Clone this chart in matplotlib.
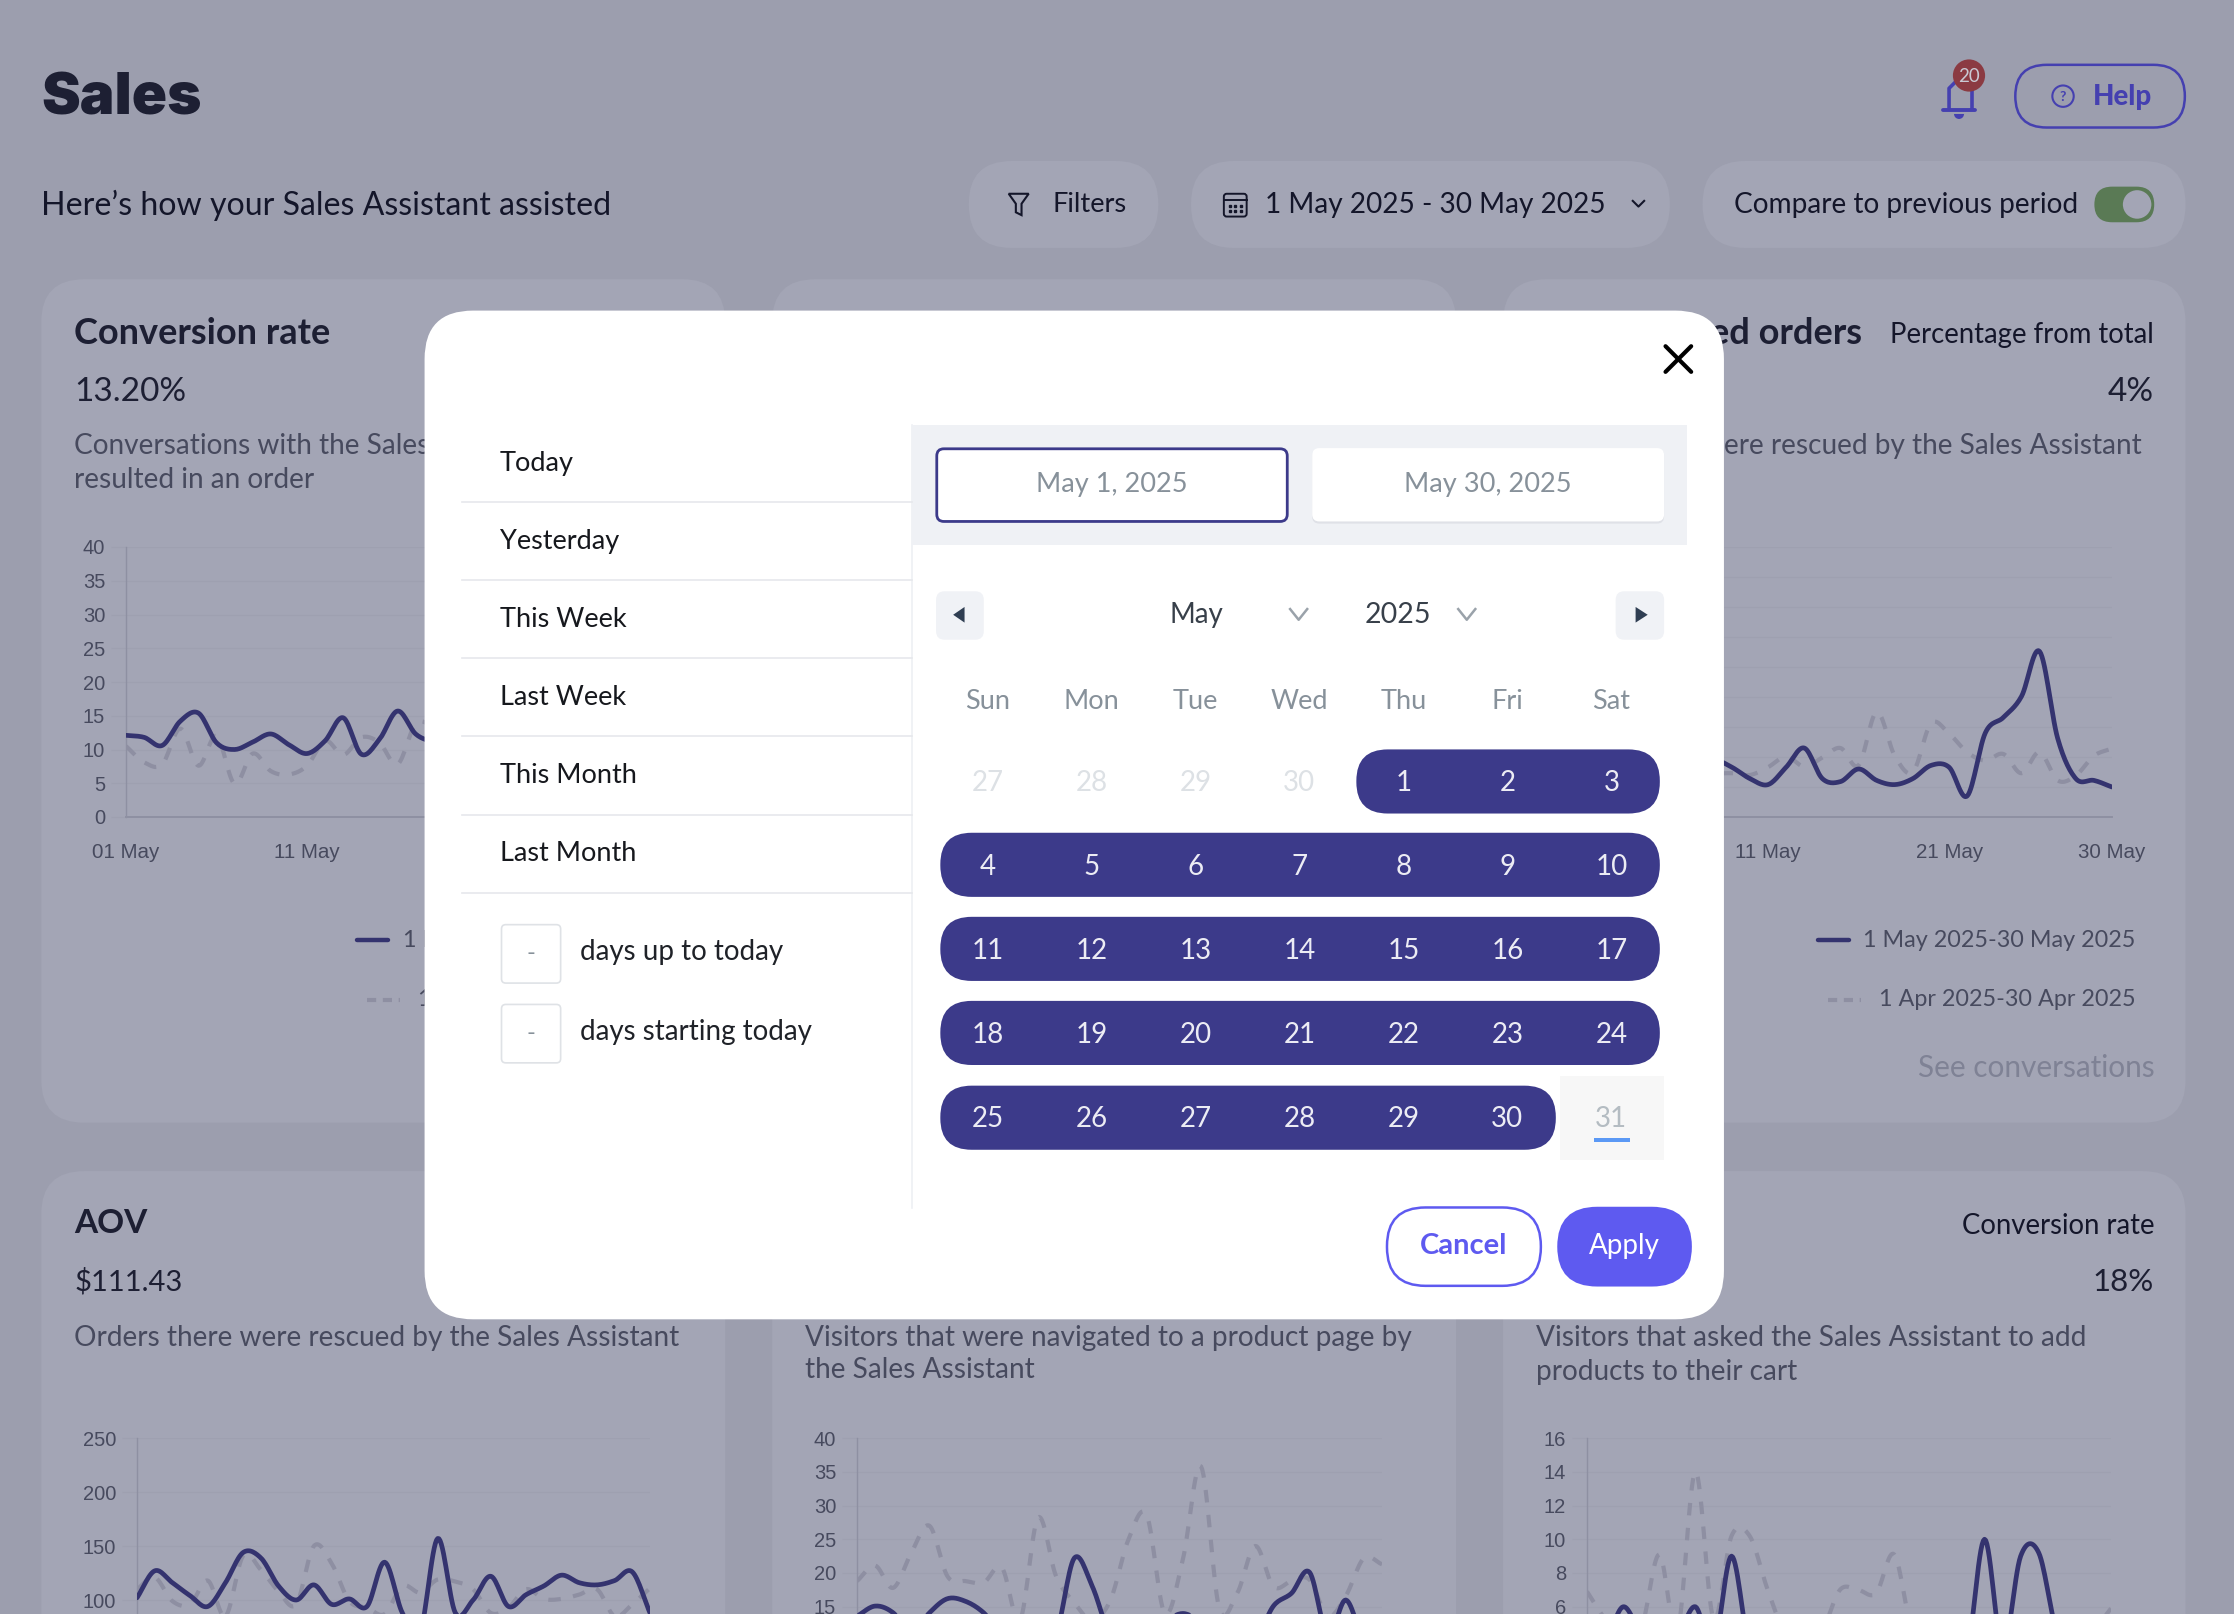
import matplotlib
matplotlib.use('Agg')
import matplotlib.pyplot as plt
import matplotlib.patches as patches
import numpy as np

plt.rcParams['font.family'] = ['Lato', 'DejaVu Sans']

# --- data (hidden stretches behind the dialog are left out) ---
date_ticks = [0, 10, 20, 29]
date_labels = ['01 May', '11 May', '21 May', '30 May']

conv_days = list(range(0, 18))
conv_now = [12.1, 11.8, 10.6, 14.2, 15.4, 11.0, 10.0, 11.1, 12.3, 10.7, 9.4, 11.3, 14.7, 9.3, 11.5, 15.7, 12.3, 11.0]
conv_prev = [10.5, 8.1, 7.8, 13.1, 7.6, 12.0, 4.9, 9.4, 6.8, 6.3, 7.6, 11.3, 9.2, 11.8, 11.0, 7.8, 13.8, 13.5]
conv_ticks = [0, 5, 10, 15, 20, 25, 30, 35, 40]

rescued_days = list(range(6, 30))
rescued_now = [9.0, 9.6, 8.3, 6.4, 5.4, 8.3, 11.5, 6.4, 5.9, 8.0, 6.1, 5.4, 6.4, 8.6, 8.3, 3.5, 14.0, 16.6, 20.1, 27.6, 13.1, 6.4, 6.1, 5.0]
rescued_prev = [7.0, 7.2, 7.3, 7.0, 8.3, 10.1, 8.4, 9.9, 11.5, 8.6, 17.5, 10.2, 7.5, 15.6, 13.9, 10.8, 9.4, 10.5, 7.3, 10.8, 6.1, 6.9, 10.2, 11.4]
rescued_ticks = [0, 5, 10, 15, 20, 25, 30, 35, 40, 45]

aov_now = [102, 127, 116, 104, 94, 116, 144, 139, 113, 100, 114, 96, 101, 94, 135, 88, 70, 157, 88, 100, 122, 94, 105, 113, 123, 116, 114, 118, 126, 88]
aov_prev = [110, 121, 99, 96, 118, 85, 141, 128, 108, 96, 150, 134, 99, 93, 87, 113, 107, 119, 117, 110, 88, 93, 110, 101, 101, 105, 110, 85, 96, 111]
aov_ticks = [0, 50, 100, 150, 200, 250]

nav_now = [13.6, 15.1, 14.1, 11.0, 14.1, 16.2, 15.8, 14.1, 11.0, 10.0, 10.0, 11.0, 22.2, 18.0, 10.7, 10.0, 9.5, 12.6, 14.0, 12.6, 10.0, 10.0, 10.0, 15.1, 17.0, 20.1, 10.7, 16.0, 10.0, 9.0]
nav_prev = [18.8, 21.1, 17.8, 23.0, 27.0, 19.5, 18.8, 18.6, 20.8, 13.0, 28.2, 19.5, 15.6, 13.0, 16.0, 25.0, 28.6, 14.0, 22.0, 35.8, 14.9, 17.0, 24.0, 18.0, 18.8, 19.0, 13.6, 16.6, 22.2, 21.3]
nav_ticks = [0, 5, 10, 15, 20, 25, 30, 35, 40]

cart_now = [4.5, 4.0, 6.0, 4.5, 4.5, 4.3, 6.0, 3.5, 9.0, 3.5, 3.0, 3.0, 3.0, 3.0, 3.0, 3.0, 3.0, 3.0, 3.0, 3.0, 3.0, 3.0, 10.0, 3.5, 9.0, 9.2, 4.5, 3.0, 3.0, 3.0]
cart_prev = [6.9, 5.3, 4.5, 4.7, 9.1, 4.5, 14.0, 5.3, 10.2, 10.2, 7.0, 4.3, 3.5, 4.5, 7.0, 7.0, 6.8, 9.1, 4.5, 3.5, 3.0, 3.0, 3.0, 3.0, 3.0, 3.0, 3.0, 3.0, 4.5, 5.9]
cart_ticks = [0, 2, 4, 6, 8, 10, 12, 14, 16]

all_days = list(range(30))

range_now = '1 May 2025-30 May 2025'
range_prev = '1 Apr 2025-30 Apr 2025'

presets = ['Today', 'Yesterday', 'This Week', 'Last Week', 'This Month', 'Last Month']
weekdays = ['Sun', 'Mon', 'Tue', 'Wed', 'Thu', 'Fri', 'Sat']
cal_rows = [
    ['27', '28', '29', '30', '1', '2', '3'],
    ['4', '5', '6', '7', '8', '9', '10'],
    ['11', '12', '13', '14', '15', '16', '17'],
    ['18', '19', '20', '21', '22', '23', '24'],
    ['25', '26', '27', '28', '29', '30', '31'],
]

# Colors
bg_col = '#9c9eae'
card_col = '#a3a5b5'
dark = '#14162a'
desc_col = '#474a5e'
line_col = '#34336f'
dash_col = '#8e8fa2'
grid_col = '#9ea0b0'
axis_col = '#8e90a2'
purple = '#3c3a8a'
violet = '#5e5af0'
blue_dim = '#4540b0'

W, H = 2234, 1614
S = W / 1568.0  # the layout below is measured on a 1568 wide view
TICK_FONT = 'Liberation Sans'

fig = plt.figure(figsize=(W / 100, H / 100), dpi=100)
fig.patch.set_facecolor(bg_col)

base = fig.add_axes([0, 0, 1, 1], zorder=0)
top = fig.add_axes([0, 0, 1, 1], zorder=5)
for a in (base, top):
    a.set_xlim(0, 1568)
    a.set_ylim(H / S, 0)
    a.axis('off')
    a.patch.set_alpha(0)


def box(ax, x0, y0, x1, y1, r, fc='none', ec='none', lw=0, z=2):
    ax.add_patch(patches.FancyBboxPatch((x0, y0), x1 - x0, y1 - y0,
                                        boxstyle='round,pad=0,rounding_size=%s' % r,
                                        fc=fc, ec=ec, lw=lw, zorder=z))


def txt(ax, x, y, s, size, color=dark, ha='left', weight='normal', z=4, family=None):
    kw = {}
    if family:
        kw['family'] = family
    ax.text(x, y + 1.8, s, fontsize=size, color=color, ha=ha, va='center', fontweight=weight, zorder=z, **kw)


def smooth(days, vals):
    # catmull-rom through the read values, the original curves are rounded
    d = np.array(days, dtype=float)
    v = np.array(vals, dtype=float)
    m = np.gradient(v, d)
    xs, ys = [], []
    for i in range(len(d) - 1):
        t = np.linspace(0, 1, 16)
        h = d[i + 1] - d[i]
        y = ((2 * t**3 - 3 * t**2 + 1) * v[i] + (t**3 - 2 * t**2 + t) * h * m[i]
             + (-2 * t**3 + 3 * t**2) * v[i + 1] + (t**3 - t**2) * h * m[i + 1])
        xs.extend(d[i] + t * h)
        ys.extend(y)
    return xs, ys


def chart(left, right, y_top, y_bottom, ticks, days_now, now, days_prev, prev, x_shown=(), y_labels=True):
    # left/right/y_top/y_bottom in real pixels, x_shown = which date labels are not under the dialog
    ax = fig.add_axes([left / W, 1 - y_bottom / H, (right - left) / W, (y_bottom - y_top) / H], zorder=2)
    ax.patch.set_alpha(0)
    ax.set_xlim(0, 29)
    ax.set_ylim(ticks[0], ticks[-1])
    ax.set_yticks(ticks)
    # labels past the bottom edge of the picture stay empty
    px = [y_bottom - (y_bottom - y_top) * t / ticks[-1] for t in ticks]
    ax.set_yticklabels([str(t) if (y_labels and p < H) else '' for t, p in zip(ticks, px)])
    ax.set_xticks(date_ticks)
    ax.set_xticklabels([lab if lab in x_shown else '' for lab in date_labels])
    ax.grid(axis='y', color=grid_col, lw=1.0, zorder=0)
    for side in ('top', 'right'):
        ax.spines[side].set_visible(False)
    ax.spines['left'].set_color(axis_col)
    ax.spines['bottom'].set_color(axis_col)
    ax.spines['left'].set_linewidth(1.0)
    ax.spines['bottom'].set_linewidth(1.4)
    ax.tick_params(axis='y', length=11, width=1.0, color=grid_col, pad=4, labelsize=14.5, labelcolor=desc_col)
    ax.tick_params(axis='x', length=0, pad=19, labelsize=14.8, labelcolor=desc_col)
    for lab in ax.get_xticklabels() + ax.get_yticklabels():
        lab.set_family(TICK_FONT)
    xs, ys = smooth(days_prev, prev)
    ax.plot(xs, ys, color=dash_col, lw=3.0, dashes=(3.0, 3.0), zorder=3)
    xs, ys = smooth(days_now, now)
    ax.plot(xs, ys, color=line_col, lw=3.4, solid_capstyle='round', zorder=4)
    return ax


def legend_marks(right):
    base.plot([right - 223, right - 201], [660, 660], color=line_col, lw=3.2, solid_capstyle='round', zorder=3)
    base.plot([right - 216, right - 193], [702, 702], color=dash_col, lw=3, dashes=(2.2, 1.6), zorder=3)


# --- page behind the dialog ---
for x0, x1 in [(29, 509), (542, 1022), (1055, 1534)]:
    box(base, x0, 196, x1, 788, 30, fc=card_col, z=1)
    box(base, x0, 822, x1, 1300, 30, fc=card_col, z=1)

txt(base, 29, 68, 'Sales', 42, '#1d1f33', weight='black', family='Inter')
txt(base, 29, 142, "Here\u2019s how your Sales Assistant assisted", 23.1)

box(base, 680, 113, 813, 174, 30, fc=card_col)
box(base, 836, 113, 1172, 174, 30, fc=card_col)
box(base, 1195, 113, 1534, 174, 30, fc=card_col)
txt(base, 739, 142, 'Filters', 19.6)
txt(base, 888, 142, '1 May 2025 - 30 May 2025', 20.2)
txt(base, 1217, 142, 'Compare to previous period', 20.2)

# funnel, calendar, chevron
base.add_patch(patches.Polygon([(708, 136), (722, 136), (717, 143), (717, 151), (713, 149), (713, 143)],
                               closed=True, fc='none', ec=dark, lw=1.5, zorder=4))
box(base, 859, 136, 875, 152, 2, ec=dark, lw=1.4, z=4)
base.plot([859, 875], [140.5, 140.5], color=dark, lw=1.4, zorder=4)
for cx in (863, 867, 871):
    for cy in (144.5, 148):
        base.plot([cx], [cy], 's', ms=1.6, color=dark, zorder=4)
base.plot([1146, 1150, 1154], [141, 145, 141], color=dark, lw=1.5, zorder=4)

# toggle
box(base, 1470, 131, 1512, 156, 12.5, fc='#5a7a55', z=3)
base.add_patch(patches.Circle((1500, 143.5), 10, fc='#a3a5b5', zorder=4))

# help + bell
box(base, 1414.5, 45.5, 1533.5, 89.5, 22, ec=blue_dim, lw=1.8)
txt(base, 1469, 66, 'Help', 20, blue_dim, weight='black')
base.add_patch(patches.Circle((1448, 67.5), 7.5, fc='none', ec=blue_dim, lw=1.5, zorder=4))
txt(base, 1448, 66, '?', 10, blue_dim, ha='center', weight='bold')
base.plot([1368, 1368, 1372], [76, 62, 58], color=blue_dim, lw=2.6, zorder=4)
base.plot([1384, 1384], [62, 76], color=blue_dim, lw=2.6, zorder=4)
base.plot([1364, 1386], [77, 77], color=blue_dim, lw=2.8, solid_capstyle='round', zorder=4)
base.add_patch(patches.Wedge((1375, 80), 3.5, 0, 180, fc=blue_dim, zorder=4))
base.add_patch(patches.Circle((1382, 53), 11.3, fc='#8b3a42', zorder=5))
txt(base, 1382, 52, '20', 13.5, '#c9c9d3', ha='center', z=6)

# top row text, only the parts that show beside the dialog
txt(base, 52, 232, 'Conversion rate', 26, '#1d1f33', weight='bold')
txt(base, 52, 273, '13.20%', 24, '#1d1f33')
txt(base, 52, 311, 'Conversations with the Sales', 20.2, desc_col)
txt(base, 52, 335, 'resulted in an order', 20.2, desc_col)
txt(base, 1307, 232, 'ed orders', 26, '#1d1f33', ha='right', weight='bold')
txt(base, 1512, 233, 'Percentage from total', 19.8, ha='right')
txt(base, 1512, 273, '4%', 24, '#1d1f33', ha='right')
txt(base, 1503, 311, 'ere rescued by the Sales Assistant', 20.2, desc_col, ha='right')
txt(base, 1512, 748, 'See conversations', 21.4, '#7f8295', ha='right')
txt(base, 283, 658, '1 M', 16.8, desc_col)
txt(base, 293, 700, '1', 16.8, desc_col)
txt(base, 1499, 658, range_now, 16.8, desc_col, ha='right')
txt(base, 1499, 700, range_prev, 16.8, desc_col, ha='right')
legend_marks(473.5)
legend_marks(1499)

# bottom row text
txt(base, 52, 857, 'AOV', 24, '#1d1f33', weight='bold')
txt(base, 52, 898, '$111.43', 21, '#1d1f33')
txt(base, 52, 937, 'Orders there were rescued by the Sales Assistant', 20.2, desc_col)
txt(base, 565, 937, 'Visitors that were navigated to a product page by', 20.2, desc_col)
txt(base, 565, 960, 'the Sales Assistant', 20.2, desc_col)
txt(base, 1512, 859, 'Conversion rate', 19.8, ha='right')
txt(base, 1512, 898, '18%', 22.5, '#1d1f33', ha='right')
txt(base, 1078, 937, 'Visitors that asked the Sales Assistant to add', 20.2, desc_col)
txt(base, 1078, 961, 'products to their cart', 20.2, desc_col)

# charts
chart(126, 651, 547, 817, conv_ticks, conv_days, conv_now, conv_days, conv_prev, x_shown=date_labels[:2])
chart(1587, 2112, 547, 817, rescued_ticks, rescued_days, rescued_now, rescued_days, rescued_prev,
      x_shown=date_labels[1:], y_labels=False)
chart(137, 650, 1438, 1708, aov_ticks, all_days, aov_now, all_days, aov_prev)
chart(857, 1382, 1438, 1708, nav_ticks, all_days, nav_now, all_days, nav_prev)
chart(1587, 2111, 1438, 1708, cart_ticks, all_days, cart_now, all_days, cart_prev)

# --- dialog ---
box(top, 298, 218, 1210, 926, 34, fc='white', z=1)
top.plot([1169, 1187], [243, 261], color='black', lw=3, solid_capstyle='round', zorder=4)
top.plot([1187, 1169], [243, 261], color='black', lw=3, solid_capstyle='round', zorder=4)

for i, name in enumerate(presets):
    y = 324 + i * 54.8
    txt(top, 351, y - 0.5, name, 19.5, '#16181d')
    top.plot([324, 640], [y + 28.5, y + 28.5], color='#e6e8ec', lw=1.2, zorder=3)

for y0, label in [(649, 'days up to today'), (705, 'days starting today')]:
    box(top, 352, y0, 393.5, y0 + 41, 3, fc='white', ec='#dfe2e6', lw=1.2)
    txt(top, 372.7, y0 + 18.5, '-', 17, '#87919a', ha='center')
    txt(top, 407, y0 + 17.5, label, 20, '#1f2228')

top.plot([640, 640], [298, 848], color='#eef0f4', lw=1.2, zorder=2)
top.add_patch(patches.Rectangle((640, 298), 544, 84.5, fc='#eff1f5', zorder=2))
box(top, 921, 315, 1168, 367.5, 5, fc='#dfe1e7', z=3)
box(top, 921, 314.5, 1168, 366, 5, fc='white', z=3)
box(top, 657.5, 315, 903.5, 366, 5, fc='white', ec=purple, lw=2, z=3)
txt(top, 780.5, 338, 'May 1, 2025', 19.5, '#87919a', ha='center')
txt(top, 1044.5, 338, 'May 30, 2025', 19.5, '#87919a', ha='center')

box(top, 657, 415, 690.5, 449, 6, fc='#f0f2f6', z=3)
box(top, 1134, 415, 1168, 449, 6, fc='#f0f2f6', z=3)
top.add_patch(patches.Polygon([(677, 426), (677, 437), (669, 431.5)], closed=True, fc='#2f3e52', zorder=4))
top.add_patch(patches.Polygon([(1148, 426), (1148, 437), (1156.5, 431.5)], closed=True, fc='#2f3e52', zorder=4))
txt(top, 839.5, 430, 'May', 20, '#38404a', ha='center')
txt(top, 981, 430, '2025', 20.5, '#38404a', ha='center')
for cx in (911.5, 1029.5):
    top.plot([cx - 6, cx, cx + 6], [427.5, 435, 427.5], color='#9aa2aa', lw=1.8, zorder=4)

col_x = [693, 766, 839, 912, 985, 1058, 1131]
row_y = [548, 607, 666, 725, 784]
for x, name in zip(col_x, weekdays):
    txt(top, x, 490.5, name, 19.5, '#87919a', ha='center')

box(top, 952, 526, 1165, 571, 22, fc=purple, z=3)
for y in row_y[1:4]:
    box(top, 660, y - 22.5, 1165, y + 22.5, 22, fc=purple, z=3)
box(top, 660, 762, 1092, 807, 22, fc=purple, z=3)
top.add_patch(patches.Rectangle((1095, 755), 73, 59, fc='#f7f7f7', zorder=3))
top.add_patch(patches.Rectangle((1119, 799), 25, 2.6, fc='#5b99f5', zorder=4))

for r, row in enumerate(cal_rows):
    for c, day in enumerate(row):
        if r == 0 and c < 4:
            col = '#dde1e5'
        elif r == 4 and c == 6:
            col = '#b4bcc2'
        else:
            col = '#ececf4'
        txt(top, col_x[c], row_y[r] - 0.3, day, 20, col, ha='center')

box(top, 973.5, 847.5, 1081.5, 902.5, 27, fc='white', ec=violet, lw=1.8, z=3)
txt(top, 1027.5, 873, 'Cancel', 21, violet, ha='center', weight='bold')
box(top, 1093, 847, 1187.5, 903, 28, fc=violet, z=3)
txt(top, 1140, 873, 'Apply', 20, 'white', ha='center')

fig.savefig('out.png', dpi=100, facecolor=bg_col)
